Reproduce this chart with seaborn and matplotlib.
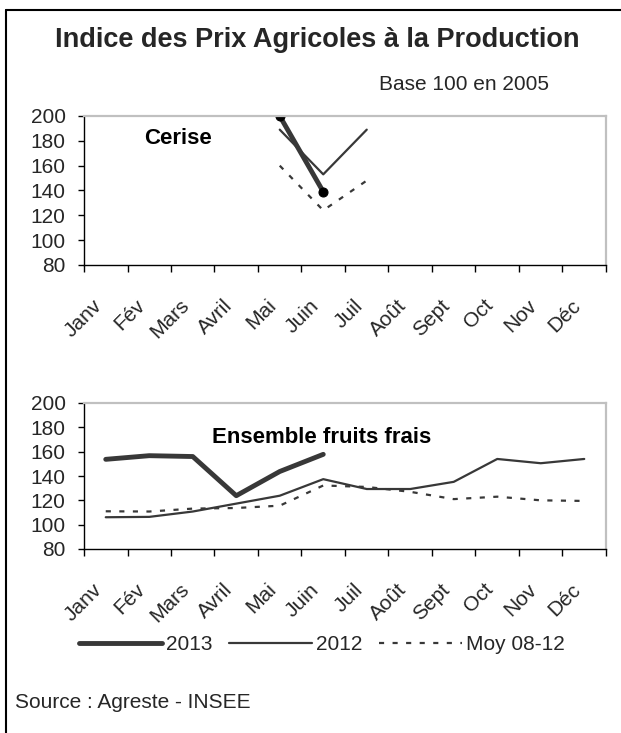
import numpy as np
import pandas as pd
import matplotlib
matplotlib.use("Agg")
import matplotlib.pyplot as plt
import matplotlib.transforms as mtransforms
from matplotlib.lines import Line2D
import seaborn as sns

# ---------------- data ----------------
months = ['Janv', 'Fév', 'Mars', 'Avril', 'Mai', 'Juin',
          'Juil', 'Août', 'Sept', 'Oct', 'Nov', 'Déc']
nan = np.nan
cerise_2013 = [nan, nan, nan, nan, 200, 139, nan, nan, nan, nan, nan, nan]
cerise_2012 = [nan, nan, nan, nan, 189, 153, 189, nan, nan, nan, nan, nan]
cerise_moy = [nan, nan, nan, nan, 160, 124, 148, nan, nan, nan, nan, nan]
fruits_2013 = [153.7, 156.7, 156, 123.8, 143.7, 157.8, nan, nan, nan, nan, nan, nan]
fruits_2012 = [106.1, 106.4, 110.8, 117.3, 123.8, 137.4, 129.3, 129.3, 135.2, 154, 150.5, 154]
fruits_moy = [111, 110.8, 113.2, 113.7, 115.6, 132.2, 131, 127, 121, 123, 120, 119.5]
series_labels = ['2013', '2012', 'Moy 08-12']
y_ticks = [80, 100, 120, 140, 160, 180, 200]

# ---------------- style ----------------
sns.set_theme(style="white")
plt.rcParams['font.family'] = ['Liberation Sans', 'DejaVu Sans']

W, H = 621, 733
fig = plt.figure(figsize=(W / 100, H / 100), dpi=100)
fig.patch.set_facecolor('white')

line_col = '#383838'
FS = 15


def px(x0, y0, x1, y1):
    return [x0 / W, 1 - y1 / H, (x1 - x0) / W, (y1 - y0) / H]


ax1 = fig.add_axes(px(84, 116, 606, 265))
ax2 = fig.add_axes(px(84, 403, 606, 549))


def draw(ax, s13, s12, smoy, markers13):
    xs = np.arange(len(months))
    df = pd.DataFrame({'x': xs, 'a': s13, 'b': s12, 'c': smoy})
    d = df.dropna(subset=['a'])
    sns.lineplot(x=d['x'], y=d['a'], ax=ax, color=line_col, lw=3.5,
                 label=series_labels[0], solid_capstyle='round',
                 marker='o' if markers13 else None, markersize=6.5,
                 markerfacecolor='black', markeredgecolor='black')
    d = df.dropna(subset=['b'])
    sns.lineplot(x=d['x'], y=d['b'], ax=ax, color=line_col, lw=1.6,
                 label=series_labels[1])
    d = df.dropna(subset=['c'])
    sns.lineplot(x=d['x'], y=d['c'], ax=ax, color=line_col, lw=1.6,
                 label=series_labels[2])
    ax.lines[-1].set_dashes((2.3, 3.8))
    if ax.get_legend() is not None:
        ax.get_legend().remove()

    ax.set_xlim(-0.5, len(months) - 0.5)
    ax.set_ylim(80, 200)
    ax.set_yticks(y_ticks)
    ax.set_yticklabels([str(v) for v in y_ticks], fontsize=FS)
    ax.set_xticks(xs)
    ax.set_xticklabels(months, fontsize=FS, rotation=45, ha='right',
                       va='center', rotation_mode='anchor')
    ax.set_xticks(np.arange(-0.5, len(months)), minor=True)
    ax.tick_params(axis='x', which='major', length=0, pad=27)
    ax.tick_params(axis='x', which='minor', length=5, width=1,
                   direction='out', color='black', bottom=True)
    ax.tick_params(axis='y', which='major', length=4.3, width=1,
                   direction='out', color='black', pad=9, left=True)
    off = mtransforms.ScaledTranslation(-0.07, 0, fig.dpi_scale_trans)
    for lab in ax.get_xticklabels():
        lab.set_transform(lab.get_transform() + off)
    ax.set_xlabel('')
    ax.set_ylabel('')
    for s in ['top', 'right']:
        ax.spines[s].set_color('#c0c0c0')
        ax.spines[s].set_linewidth(1.6)
    for s in ['left', 'bottom']:
        ax.spines[s].set_color('black')
        ax.spines[s].set_linewidth(1.0)
    ax.grid(False)
    ax.set_facecolor('white')


draw(ax1, cerise_2013, cerise_2012, cerise_moy, True)
draw(ax2, fruits_2013, fruits_2012, fruits_moy, False)

ax1.text(0.88, 182, 'Cerise', fontsize=16, fontweight='bold', ha='left',
         va='center', color='black')
ax2.text(2.44, 172, 'Ensemble fruits frais', fontsize=16, fontweight='bold',
         ha='left', va='center', color='black')

# titles
fig.text(317 / W, 1 - 40 / H, 'Indice des Prix Agricoles à la Production',
         fontsize=19.5, fontweight='bold', ha='center', va='center')
fig.text(549 / W, 1 - 84 / H, 'Base 100 en 2005', fontsize=FS,
         ha='right', va='center')
fig.text(15 / W, 1 - 702 / H, 'Source : Agreste - INSEE', fontsize=FS,
         ha='left', va='center')

# legend
handles, labels = ax2.get_legend_handles_labels()
fig.legend(handles, labels, loc='center', bbox_to_anchor=(322 / W, 1 - 645 / H),
           ncol=3, frameon=False, fontsize=FS, handlelength=4.0,
           handletextpad=0.2, columnspacing=0.77)

# outer frame (left and top edges)
fig.add_artist(Line2D([6 / W, 6 / W], [0, 1 - 10 / H], color='black', lw=1.5,
                      transform=fig.transFigure))
fig.add_artist(Line2D([6 / W, 1], [1 - 10 / H, 1 - 10 / H], color='black', lw=1.5,
                      transform=fig.transFigure))

fig.savefig('out.png', dpi=100)
